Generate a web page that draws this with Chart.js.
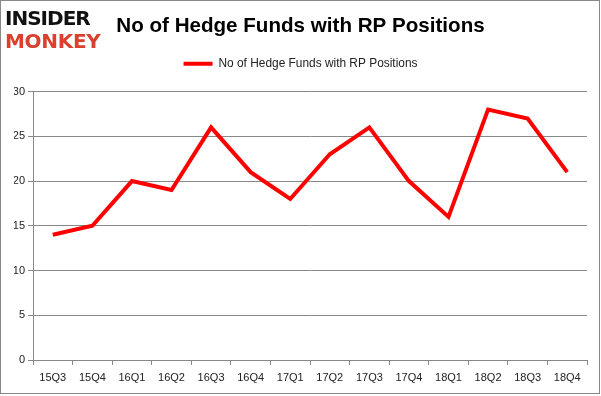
<!DOCTYPE html>
<html>
<head>
<meta charset="utf-8">
<script src="https://cdn.jsdelivr.net/npm/chart.js@4.4.1/dist/chart.umd.min.js"></script>
<style>
  html, body { margin: 0; padding: 0; background: #fff; }
  #wrap { position: relative; width: 601px; height: 396px; }
  #frame { position: absolute; left: 0; top: 0; width: 598px; height: 392px; border: 1px solid #888; pointer-events: none; }
  #logo { position: absolute; left: 5px; top: 7px; font-family: "DejaVu Sans", sans-serif; font-weight: bold; line-height: 23px; }
  #logo .a { color: #111; font-size: 20px; letter-spacing: -1px; }
  #logo .b { color: #d9412e; font-size: 20px; letter-spacing: -0.3px; }
</style>
</head>
<body>
<div id="wrap">
  <canvas id="chart" width="601" height="396"></canvas>
  <div id="logo"><div class="a">INSIDER</div><div class="b">MONKEY</div></div>
  <div id="frame"></div>
</div>
<script>
const quarters = ["15Q3", "15Q4", "16Q1", "16Q2", "16Q3", "16Q4", "17Q1", "17Q2", "17Q3", "17Q4", "18Q1", "18Q2", "18Q3", "18Q4"];
const hedgeFunds = [14, 15, 20, 19, 26, 21, 18, 23, 26, 20, 16, 28, 27, 21];
const yTicks = [0, 5, 10, 15, 20, 25, 30];

const seriesName = "No of Hedge Funds with RP Positions";
const font = "'Liberation Sans', Arial, sans-serif";

// extra room under the legend, so the plot starts lower
const legendGap = {
    id: "legendGap",
    beforeLayout(chart) {
        const lg = chart.legend;
        if (!lg || lg._gapped) return;
        const fit = lg.fit;
        lg.fit = function () { fit.call(this); this.height += 12; };
        lg._gapped = true;
    },
};

const ctx = document.getElementById("chart");
window.myLine = new Chart(ctx, {
    type: "line",
    data: {
        labels: quarters,
        datasets: [
            {
                label: seriesName,
                data: hedgeFunds,
                borderColor: "#ff0000",
                backgroundColor: "#ff0000",
                borderWidth: 4,
                tension: 0,
                pointRadius: 0,
                borderJoinStyle: "miter",
            },
        ],
    },
    plugins: [legendGap],
    options: {
        responsive: false,
        animation: false,
        layout: { padding: { left: 14, right: 14, top: 0, bottom: 0 } },
        plugins: {
            title: {
                display: true,
                text: seriesName,
                color: "#000",
                font: { family: font, size: 20.6, weight: "bold" },
                padding: { top: 14, bottom: 9 },
            },
            legend: {
                labels: {
                    usePointStyle: true,
                    pointStyle: "line",
                    pointStyleWidth: 29,
                    color: "#222",
                    font: { family: font, size: 11.9 },
                    padding: 10,
                },
            },
            tooltip: { enabled: false },
        },
        scales: {
            x: {
                offset: true,
                grid: { offset: true, drawOnChartArea: false, color: "#888", tickLength: 5 },
                border: { color: "#888" },
                ticks: { color: "#222", font: { family: font, size: 11 }, padding: 6, maxRotation: 0, autoSkip: false },
                afterFit(scale) { scale.height = 36; },
            },
            y: {
                min: 0,
                max: 30,
                afterBuildTicks(scale) { scale.ticks = yTicks.map(v => ({ value: v })); },
                grid: { color: "#888", tickLength: 5 },
                border: { color: "#888" },
                ticks: { color: "#222", font: { family: font, size: 11 }, padding: 3 },
                afterFit(scale) { scale.width = 19; },
            },
        },
    },
});
</script>
</body>
</html>
